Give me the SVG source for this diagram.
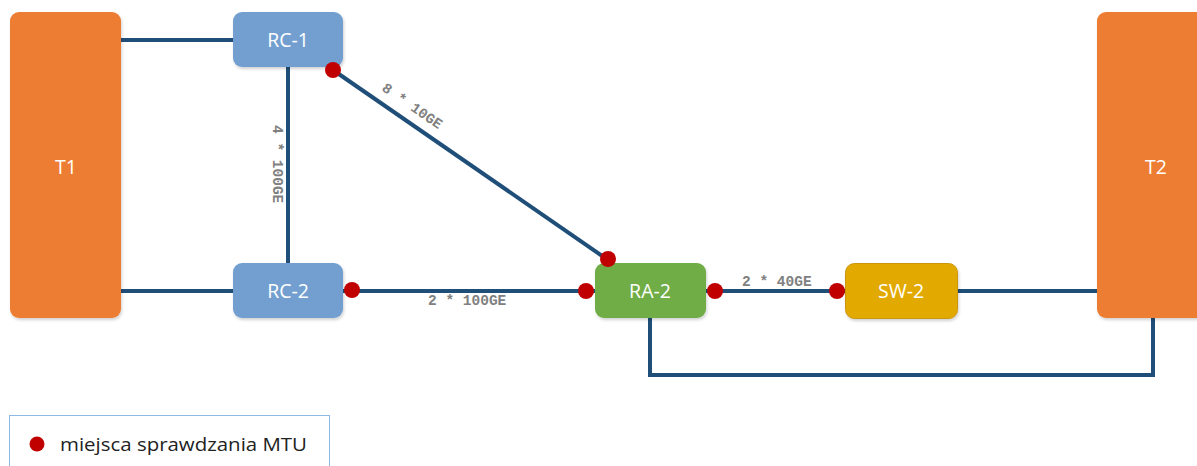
<svg xmlns="http://www.w3.org/2000/svg" width="1197" height="466" viewBox="0 0 1197 466">
<defs>
<filter id="sh" x="-10%" y="-10%" width="130%" height="130%">
<feDropShadow dx="1" dy="2" stdDeviation="1.5" flood-color="#000" flood-opacity="0.18"/>
</filter>
</defs>
<style>
.node{font-family:"Open Sans","Liberation Sans",sans-serif;font-size:19.5px;fill:#fff;text-anchor:middle}
.lbl{font-family:"Liberation Mono","DejaVu Sans Mono",monospace;font-size:14.5px;font-weight:bold;fill:#808080}
.ln{stroke:#1f4e79;stroke-width:4;fill:none}
.dot{fill:#c00000}
.box{filter:url(#sh)}
</style>
<rect width="1197" height="466" fill="#fff"/>
<g id="connectors">
<line class="ln" x1="121" y1="40" x2="233" y2="40"/>
<line class="ln" x1="121" y1="291" x2="233" y2="291"/>
<line class="ln" x1="288" y1="67" x2="288" y2="263"/>
<line class="ln" x1="333" y1="70" x2="608" y2="260"/>
<line class="ln" x1="343" y1="291" x2="595" y2="291"/>
<line class="ln" x1="706" y1="291" x2="845" y2="291"/>
<line class="ln" x1="958" y1="291" x2="1097" y2="291"/>
<polyline class="ln" points="650,318 650,375 1153,375 1153,318"/>
<text class="lbl" transform="translate(273,125) rotate(90)">4 * 100GE</text>
<text class="lbl" transform="translate(381,90) rotate(34.6)">8 * 10GE</text>
<text class="lbl" x="428" y="305">2 * 100GE</text>
<text class="lbl" x="742" y="286">2 * 40GE</text>
</g>
<g id="T1"><rect class="box" x="10" y="12" width="111" height="306" rx="9" fill="#ed7d31"/><text class="node" x="66" y="174">T1</text></g>
<g id="T2"><rect class="box" x="1097" y="12" width="110" height="306" rx="9" fill="#ed7d31"/><text class="node" x="1156" y="174">T2</text></g>
<g id="RC-1"><rect class="box" x="233" y="12" width="110" height="55" rx="9" fill="#729fcf"/><text class="node" x="288" y="47">RC-1</text></g>
<g id="RC-2"><rect class="box" x="233" y="263" width="110" height="55" rx="9" fill="#729fcf"/><text class="node" x="288" y="298">RC-2</text></g>
<g id="RA-2"><rect class="box" x="595" y="263" width="111" height="55" rx="9" fill="#70ad47"/><text class="node" x="650" y="298">RA-2</text></g>
<g id="SW-2"><rect class="box" x="845.5" y="263.5" width="112" height="55" rx="9" fill="#e2aa00" stroke="#c9960a" stroke-width="1"/><text class="node" x="901" y="298">SW-2</text></g>
<g id="dots">
<circle class="dot" cx="333" cy="70" r="8"/>
<circle class="dot" cx="608" cy="259" r="8"/>
<circle class="dot" cx="352" cy="290" r="8"/>
<circle class="dot" cx="586" cy="291" r="8"/>
<circle class="dot" cx="715" cy="291" r="8"/>
<circle class="dot" cx="837" cy="291" r="8"/>
</g>
<g id="legend">
<rect x="9.5" y="415.5" width="320" height="60" fill="#fff" stroke="#8fb8e2" stroke-width="1"/>
<circle class="dot" cx="37" cy="444" r="7.5"/>
<text x="60" y="451" font-family="'Open Sans','Liberation Sans',sans-serif" font-size="18.5" fill="#222" textLength="247" lengthAdjust="spacingAndGlyphs">miejsca sprawdzania MTU</text>
</g>
</svg>
